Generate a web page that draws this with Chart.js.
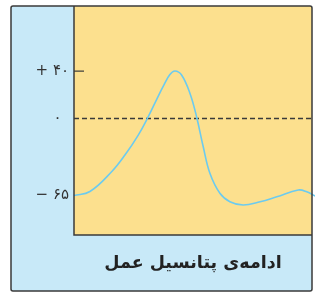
<!DOCTYPE html>
<html>
<head>
<meta charset="utf-8">
<script src="https://cdn.jsdelivr.net/npm/chart.js@4/dist/chart.umd.min.js"></script>
<style>
  html, body { margin: 0; padding: 0; background: #fff; }
</style>
</head>
<body>
<canvas id="apChart" width="315" height="294"></canvas>
<script>
// time axis is unitless (0..100 across the panel)
const timePoints = [0, 6.7, 15.8, 21.4, 27.0, 31.2, 34.8, 37.8, 40.3, 42.4, 45.2, 48.7, 51.5, 54.3, 57.1, 61.3, 65.5, 71.1, 78.2, 85.2, 94.2, 97.8, 101.3];
const voltage = [-65, -61.7, -45.0, -30.9, -14.0, 1.5, 16.4, 28.3, 37.1, 40.1, 36.7, 21.3, 1.5, -23.9, -46.3, -63.2, -70.3, -73.1, -70.3, -66.1, -60.4, -61.9, -65.5];
const zeroTimes = [0, 100];
const zeroValues = [0, 0];
const yTickValues = [-65, 0, 40];
const yTickLabels = ['− ۶۵', '۰\u2002', '+ ۴۰'];
const titleText = 'ادامه‌ی پتانسیل عمل';

const panelPlugin = {
    id: 'panel',
    beforeDraw(chart) {
        const ctx = chart.ctx, a = chart.chartArea;
        ctx.save();
        ctx.fillStyle = '#c8e9f8';
        ctx.beginPath();
        ctx.roundRect(11, 6, 301, 285, 2);
        ctx.fill();
        ctx.fillStyle = '#fce08e';
        ctx.fillRect(a.left, a.top, a.right - a.left, a.bottom - a.top);
        ctx.restore();
    },
    afterDraw(chart) {
        const ctx = chart.ctx, a = chart.chartArea;
        const y = chart.scales.y;
        ctx.save();
        ctx.strokeStyle = '#3a3a3a';
        ctx.lineWidth = 1.5;
        ctx.beginPath();
        ctx.roundRect(11, 6, 301, 285, 2);
        ctx.stroke();
        // plot frame: left and bottom
        ctx.beginPath();
        ctx.moveTo(a.left, a.top);
        ctx.lineTo(a.left, a.bottom);
        ctx.lineTo(a.right, a.bottom);
        ctx.stroke();
        // short tick at +40
        const ty = y.getPixelForValue(40);
        ctx.lineWidth = 1.2;
        ctx.beginPath();
        ctx.moveTo(a.left, ty);
        ctx.lineTo(a.left + 10, ty);
        ctx.stroke();
        // title under the plot
        ctx.fillStyle = '#222';
        ctx.font = "bold 17.5px 'DejaVu Sans'";
        ctx.textAlign = 'center';
        ctx.textBaseline = 'middle';
        ctx.fillText(titleText, (a.left + a.right) / 2, 263);
        ctx.restore();
    }
};

const ctx = document.getElementById('apChart');

new Chart(ctx, {
    type: 'line',
    data: {
        datasets: [{
            data: timePoints.map((t, i) => ({ x: t, y: voltage[i] })),
            borderColor: '#6ccbef',
            borderWidth: 1.6,
            pointRadius: 0,
            tension: 0.4,
            clip: false,
        }, {
            data: zeroTimes.map((t, i) => ({ x: t, y: zeroValues[i] })),
            borderColor: '#3a3a3a',
            borderWidth: 1.3,
            borderDash: [5, 3],
            pointRadius: 0,
        }]
    },
    options: {
        responsive: false,
        animation: false,
        layout: { padding: { left: 11, top: 6, right: 3, bottom: 59 } },
        plugins: {
            legend: { display: false },
            tooltip: { enabled: false },
        },
        scales: {
            x: {
                type: 'linear',
                min: 0,
                max: 100,
                display: false,
            },
            y: {
                min: -98.4,
                max: 95,
                grid: { display: false, drawTicks: false },
                border: { display: false },
                afterBuildTicks: s => { s.ticks = yTickValues.map(v => ({ value: v })); },
                afterFit: s => { s.width = 63; s.paddingTop = 0; s.paddingBottom = 0; },
                ticks: {
                    autoSkip: false,
                    padding: 5,
                    color: '#333',
                    font: { family: 'DejaVu Sans', size: 15 },
                    callback: v => yTickLabels[yTickValues.indexOf(v)],
                },
            }
        }
    },
    plugins: [panelPlugin]
});
</script>
</body>
</html>
